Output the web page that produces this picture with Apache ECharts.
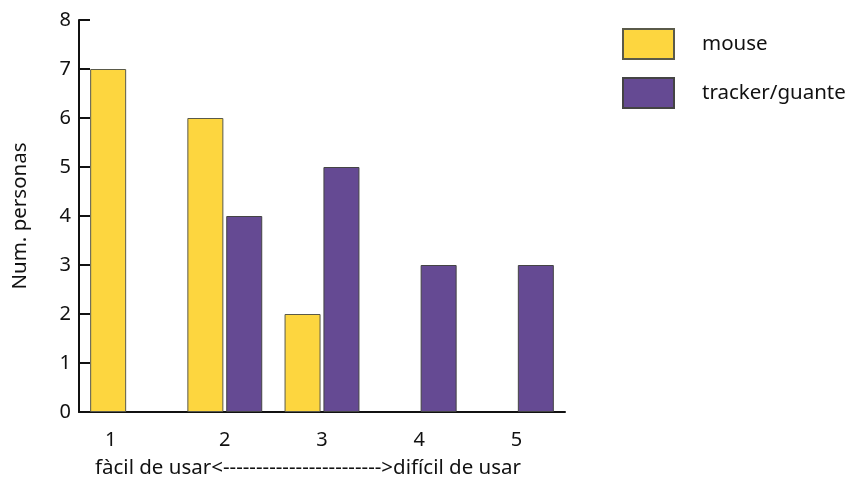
<!DOCTYPE html>
<html>
<head>
<meta charset="utf-8">
<script src="https://cdn.jsdelivr.net/npm/echarts@6/dist/echarts.min.js"></script>
<style>html,body{margin:0;padding:0;background:#fff}#c{width:853px;height:477px}</style>
</head>
<body>
<div id="c"></div>
<script>
const categories = ['1', '2', '3', '4', '5'];
const mouseValues = [7, 6, 2, 0, 0];
const trackerValues = [0, 4, 5, 3, 3];
const yTicks = [0, 8, 1]; // min, max, interval
const seriesNames = ['mouse', 'tracker/guante'];
const xTitle = 'fàcil de usar<------------------------' + '>difícil de usar';
const yTitle = 'Num. personas';

const FONT = 'Noto Sans';
const hideZero = arr => arr.map(v => v === 0 ? '-' : v);
const chart = echarts.init(document.getElementById('c'));
chart.setOption({
  animation: false,
  grid: { left: 79, right: 288, top: 20, bottom: 65, outerBoundsMode: 'none', containLabel: false },
  legend: {
    orient: 'vertical', left: 617, top: 23,
    itemWidth: 51, itemHeight: 30, itemGap: 17,
    icon: 'rect',
    textStyle: { fontFamily: FONT, fontSize: 20.5, color: '#111', padding: [0, 0, 0, 23] },
    data: seriesNames
  },
  xAxis: {
    type: 'category', data: categories,
    axisLine: { lineStyle: { color: '#111', width: 2 } },
    axisTick: { inside: true, length: 10, lineStyle: { color: '#111', width: 2 } },
    axisLabel: {
      fontFamily: FONT, fontSize: 20, color: '#111', margin: 18,
      formatter: v => v === '1' ? '{s|' + v + '}' : v,
      rich: { s: { fontFamily: FONT, fontSize: 20, color: '#111', padding: [0, 34, 0, 0] } }
    },
    name: xTitle, nameLocation: 'middle', nameGap: 46,
    nameTextStyle: { fontFamily: FONT, fontSize: 20.5, color: '#111', padding: [0, 28, 0, 0] }
  },
  yAxis: {
    type: 'value', min: yTicks[0], max: yTicks[1], interval: yTicks[2],
    splitLine: { show: false },
    axisLine: { show: true, lineStyle: { color: '#111', width: 2 } },
    axisTick: { show: true, inside: true, length: 11, lineStyle: { color: '#111', width: 2 } },
    axisLabel: { fontFamily: FONT, fontSize: 20, color: '#111', margin: 8 },
    name: yTitle, nameLocation: 'middle', nameGap: 48, nameRotate: 90,
    nameTextStyle: { fontFamily: FONT, fontSize: 20.5, color: '#111' }
  },
  series: [
    { name: seriesNames[0], type: 'bar', data: hideZero(mouseValues), barWidth: 36, barGap: '8%',
      itemStyle: { color: '#FDD63F', borderColor: '#5a5a4a', borderWidth: 1 } },
    { name: seriesNames[1], type: 'bar', data: hideZero(trackerValues), barWidth: 36,
      itemStyle: { color: '#654A93', borderColor: '#444', borderWidth: 1 } }
  ]
});
</script>
</body>
</html>
